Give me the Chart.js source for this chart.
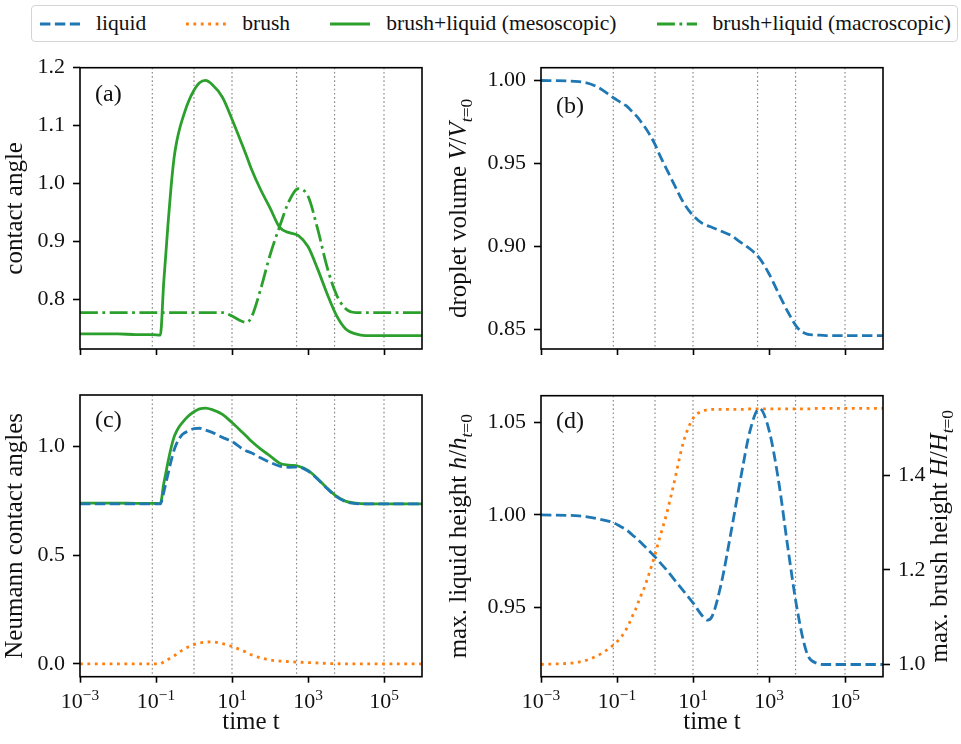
<!DOCTYPE html>
<html>
<head>
<meta charset="utf-8">
<title>Contact angles and heights over time</title>
<script src="https://cdn.jsdelivr.net/npm/chart.js@4.4.1/dist/chart.umd.min.js"></script>
<style>
  html, body { margin: 0; background: #fff; }
  #figure { position: relative; width: 961px; height: 744px; overflow: hidden; }
  #figure canvas { position: absolute; left: 0; top: 0; }
  #legend {
    position: absolute; left: 31px; top: 5px; width: 927px; height: 37px;
    box-sizing: border-box; border: 1.5px solid #d5d5d5; border-radius: 4px;
    padding: 0 6px 0 8px; display: flex; align-items: center; justify-content: space-between;
    font-family: "Liberation Serif", serif; font-size: 21.5px; color: #111; background: #fff;
  }
  .item { display: flex; align-items: center; }
  .item svg { margin-right: 16px; }
</style>
</head>
<body>
<div id="figure">
  <canvas id="panelA" width="961" height="744"></canvas>
  <canvas id="panelB" width="961" height="744"></canvas>
  <canvas id="panelC" width="961" height="744"></canvas>
  <canvas id="panelD" width="961" height="744"></canvas>
  <div id="legend"></div>
</div>
<script>
// ---- data ----
// sample times shared by every series
const times = [0.001, 0.01, 0.03, 0.08, 0.13, 0.16, 0.18, 0.21, 0.25, 0.3,
               0.35, 0.42, 0.5, 0.7, 1, 1.4, 2, 3, 5.6, 10,
               18, 24, 32, 56, 100, 180, 320, 560, 1000, 1800,
               3200, 5600, 1e4, 1.8e4, 3.2e4, 1e5, 1e6];

// (a) contact angle, brush+liquid
const angleMeso = [0.740, 0.740, 0.739, 0.739, 0.738, 0.830, 0.875, 0.935, 0.995, 1.045,
                   1.072, 1.095, 1.112, 1.140, 1.161, 1.174, 1.178, 1.171, 1.149, 1.111,
                   1.069, 1.048, 1.026, 0.990, 0.958, 0.924, 0.915, 0.910, 0.891, 0.852,
                   0.809, 0.772, 0.748, 0.740, 0.737, 0.737, 0.737];
const angleMacro = [0.777, 0.777, 0.777, 0.777, 0.777, 0.777, 0.777, 0.777, 0.777, 0.777,
                    0.777, 0.777, 0.777, 0.777, 0.777, 0.777, 0.777, 0.777, 0.777, 0.771,
                    0.762, 0.760, 0.768, 0.816, 0.876, 0.926, 0.970, 0.991, 0.978, 0.921,
                    0.855, 0.808, 0.783, 0.777, 0.777, 0.777, 0.777];

// (b) droplet volume V/V(t=0)
const dropletVolume = [1.000, 0.9993, 0.9962, 0.9896, 0.9866, 0.9853, 0.9846, 0.9831, 0.9813, 0.9795,
                       0.9778, 0.9754, 0.9731, 0.968, 0.9615, 0.954, 0.9468, 0.9387, 0.9265, 0.9187,
                       0.9138, 0.9126, 0.9115, 0.9092, 0.9067, 0.9025, 0.8985, 0.893, 0.8836, 0.8716,
                       0.8603, 0.8511, 0.8473, 0.8467, 0.8464, 0.8464, 0.8464];

// (c) Neumann contact angles
const neumannLiquid = [0.737, 0.737, 0.737, 0.737, 0.737, 0.790, 0.828, 0.878, 0.935, 0.985,
                       1.015, 1.040, 1.057, 1.072, 1.083, 1.085, 1.077, 1.066, 1.043, 1.024,
                       0.992, 0.980, 0.972, 0.949, 0.928, 0.911, 0.905, 0.906, 0.888, 0.850,
                       0.807, 0.770, 0.746, 0.738, 0.737, 0.737, 0.737];
const neumannBrush = [0, 0, 0, 0, 0, 0.009, 0.014, 0.021, 0.029, 0.037,
                      0.045, 0.055, 0.064, 0.078, 0.089, 0.096, 0.100, 0.101, 0.093, 0.080,
                      0.063, 0.053, 0.042, 0.028, 0.018, 0.013, 0.010, 0.008, 0.006, 0.004,
                      0.002, 0.001, 0, 0, 0, 0, 0];

// (d) max. liquid height h/h(t=0) and max. brush height H/H(t=0)
const liquidHeight = [1.000, 0.9995, 0.998, 0.9958, 0.9935, 0.9925, 0.9919, 0.9907, 0.9893, 0.9879,
                      0.9867, 0.9852, 0.9836, 0.9806, 0.9773, 0.9739, 0.9703, 0.9658, 0.9589, 0.9524,
                      0.9451, 0.9430, 0.9452, 0.9633, 0.9906, 1.020, 1.046, 1.0577, 1.046, 1.018,
                      0.981, 0.948, 0.925, 0.9197, 0.919, 0.919, 0.919];
const brushHeight = [1.000, 1.005, 1.018, 1.041, 1.058, 1.069, 1.076, 1.087, 1.101, 1.114,
                     1.128, 1.144, 1.158, 1.192, 1.232, 1.274, 1.317, 1.375, 1.470, 1.520,
                     1.536, 1.538, 1.539, 1.539, 1.539, 1.539, 1.540, 1.540, 1.540, 1.540,
                     1.540, 1.540, 1.540, 1.541, 1.541, 1.541, 1.541];

// vertical guide lines and x ticks
const markTimes = [0.08, 1, 10, 500, 5000, 1e5];
const timeTicks = [1e-3, 1e-1, 1e1, 1e3, 1e5];

// ---- styles ----
const FIG_W = 961, FIG_H = 744;
const FONT = '"Liberation Serif", serif';
const INK = '#111';
const LW = 2.8;
const Y_W = 70;   // fixed width of every y axis box
const X_H = 40;   // fixed height of every x axis box

Chart.defaults.font.family = FONT;
Chart.defaults.color = INK;

const styles = {
    liquid: { label: 'liquid', color: '#1f77b4', dash: [10.4, 4.5] },
    brush: { label: 'brush', color: '#ff7f0e', dash: [2.8, 4.6] },
    meso: { label: 'brush+liquid (mesoscopic)', color: '#2ca02c', dash: [] },
    macro: { label: 'brush+liquid (macroscopic)', color: '#2ca02c', dash: [17.9, 4.5, 2.8, 4.5] }
};

const panels = [
    {
        canvas: 'panelA', tag: '(a)', tagDrop: 33,
        area: { left: 80, top: 67.7, right: 422, bottom: 349 },
        y: { min: 0.714, max: 1.2, ticks: [0.8, 0.9, 1.0, 1.1, 1.2], digits: 1 },
        yTitle: [{ text: 'contact angle' }], yTitleX: 22,
        series: [{ data: angleMeso, style: 'meso' }, { data: angleMacro, style: 'macro' }]
    },
    {
        canvas: 'panelB', tag: '(b)', tagDrop: 45,
        area: { left: 541, top: 67.7, right: 883, bottom: 349 },
        y: { min: 0.8383, max: 1.0077, ticks: [0.85, 0.90, 0.95, 1.00], digits: 2 },
        yTitle: [{ text: 'droplet volume ' }, { text: 'V', it: true }, { text: '/' },
                 { text: 'V', it: true }, { text: 't', it: true, sub: true }, { text: '=0', sub: true }],
        yTitleX: 466,
        series: [{ data: dropletVolume, style: 'liquid' }]
    },
    {
        canvas: 'panelC', tag: '(c)', tagDrop: 32, timeLabels: true,
        area: { left: 80, top: 395, right: 422, bottom: 676.7 },
        y: { min: -0.059, max: 1.238, ticks: [0, 0.5, 1.0], digits: 1 },
        yTitle: [{ text: 'Neumann contact angles' }], yTitleX: 22,
        series: [{ data: neumannLiquid, style: 'liquid' }, { data: angleMeso, style: 'meso' },
                 { data: neumannBrush, style: 'brush' }]
    },
    {
        canvas: 'panelD', tag: '(d)', tagDrop: 32, timeLabels: true,
        area: { left: 541, top: 395.7, right: 883, bottom: 676.7 },
        y: { min: 0.9124, max: 1.0646, ticks: [0.95, 1.00, 1.05], digits: 2 },
        y1: { min: 0.974, max: 1.568, ticks: [1.0, 1.2, 1.4], digits: 1 },
        yTitle: [{ text: 'max. liquid height ' }, { text: 'h', it: true }, { text: '/' },
                 { text: 'h', it: true }, { text: 't', it: true, sub: true }, { text: '=0', sub: true }],
        yTitleX: 466,
        y1Title: [{ text: 'max. brush height ' }, { text: 'H', it: true }, { text: '/' },
                  { text: 'H', it: true }, { text: 't', it: true, sub: true }, { text: '=0', sub: true }],
        y1TitleX: 947,
        series: [{ data: liquidHeight, style: 'liquid' }, { data: brushHeight, style: 'brush', axis: 'y1' }]
    }
];

// text with italic / sub / superscript runs, centred on (x, y) baseline
function drawRich(ctx, parts, size, x, y, vertical) {
    ctx.save();
    ctx.translate(x, y);
    if (vertical) ctx.rotate(-Math.PI / 2);
    ctx.fillStyle = INK;
    ctx.textAlign = 'left';
    ctx.textBaseline = 'alphabetic';
    const fontOf = p => (p.it ? 'italic ' : '') + ((p.sub || p.sup) ? size * 0.7 : size) + 'px ' + FONT;
    const widths = parts.map(p => { ctx.font = fontOf(p); return ctx.measureText(p.text).width; });
    let cx = -widths.reduce((a, b) => a + b, 0) / 2;
    parts.forEach((p, i) => {
        ctx.font = fontOf(p);
        const dy = p.sub ? size * 0.22 : (p.sup ? -size * 0.36 : 0);
        ctx.fillText(p.text, cx, dy);
        cx += widths[i];
    });
    ctx.restore();
}

function makeDecor(panel) {
    return {
        id: 'panelDecor',
        beforeDatasetsDraw(chart) {
            const { ctx, chartArea: a } = chart;
            const x = chart.scales.x;
            ctx.save();
            ctx.strokeStyle = 'rgba(120,120,120,0.85)';
            ctx.lineWidth = 1.2;
            ctx.setLineDash([1.6, 2.6]);
            markTimes.forEach(t => {
                const px = x.getPixelForValue(t);
                ctx.beginPath();
                ctx.moveTo(px, a.top);
                ctx.lineTo(px, a.bottom);
                ctx.stroke();
            });
            ctx.restore();
        },
        afterDatasetsDraw(chart) {
            const { ctx, chartArea: a } = chart;
            ctx.save();
            ctx.strokeStyle = '#000';
            ctx.lineWidth = 1.6;
            ctx.strokeRect(a.left, a.top, a.right - a.left, a.bottom - a.top);
            ctx.restore();
        },
        afterDraw(chart) {
            const { ctx, chartArea: a } = chart;
            const midY = (a.top + a.bottom) / 2;
            ctx.save();
            ctx.fillStyle = INK;
            ctx.font = '24px ' + FONT;
            ctx.textBaseline = 'alphabetic';
            ctx.fillText(panel.tag, a.left + 15, a.top + panel.tagDrop);
            ctx.restore();

            drawRich(ctx, panel.yTitle, 25, panel.yTitleX, midY, true);
            if (panel.y1Title) drawRich(ctx, panel.y1Title, 25, panel.y1TitleX, midY, true);

            if (panel.timeLabels) {
                const x = chart.scales.x;
                timeTicks.forEach(t => {
                    const e = Math.round(Math.log10(t));
                    const exp = e < 0 ? '\u2212' + Math.abs(e) : String(e);
                    drawRich(ctx, [{ text: '10' }, { text: exp, sup: true }], 22,
                             x.getPixelForValue(t), a.bottom + 31, false);
                });
                drawRich(ctx, [{ text: 'time t' }], 25, (a.left + a.right) / 2, a.bottom + 52, false);
            }
        }
    };
}

function yScale(cfg, position) {
    return {
        type: 'linear',
        position: position,
        min: cfg.min,
        max: cfg.max,
        afterBuildTicks: s => { s.ticks = cfg.ticks.map(v => ({ value: v })); },
        afterFit: s => { s.width = Y_W; },
        border: { display: false },
        grid: { drawOnChartArea: false, tickLength: 7, tickWidth: 1.6, tickColor: '#000' },
        ticks: {
            padding: 8,
            color: INK,
            font: { family: FONT, size: 22 },
            callback: v => Number(v).toFixed(cfg.digits)
        }
    };
}

function buildPanel(panel) {
    const a = panel.area;
    const rightW = panel.y1 ? Y_W : 0;
    const scales = {
        x: {
            type: 'logarithmic',
            position: 'bottom',
            min: 1e-3,
            max: 1e6,
            afterBuildTicks: s => { s.ticks = timeTicks.map(v => ({ value: v })); },
            afterFit: s => { s.height = X_H; },
            border: { display: false },
            grid: { drawOnChartArea: false, tickLength: 6, tickWidth: 1.6, tickColor: '#000' },
            ticks: { display: false }
        },
        y: yScale(panel.y, 'left')
    };
    if (panel.y1) scales.y1 = yScale(panel.y1, 'right');

    const datasets = panel.series.map(s => {
        const st = styles[s.style];
        return {
            label: st.label,
            data: times.map((t, i) => ({ x: t, y: s.data[i] })),
            yAxisID: s.axis || 'y',
            borderColor: st.color,
            borderDash: st.dash,
            borderWidth: LW,
            pointRadius: 0,
            fill: false,
            cubicInterpolationMode: 'monotone'
        };
    });

    new Chart(document.getElementById(panel.canvas), {
        type: 'line',
        data: { datasets: datasets },
        options: {
            responsive: false,
            animation: false,
            events: [],
            layout: {
                padding: {
                    left: a.left - Y_W,
                    right: FIG_W - a.right - rightW,
                    top: a.top,
                    bottom: FIG_H - a.bottom - X_H
                }
            },
            plugins: { legend: { display: false }, tooltip: { enabled: false } },
            scales: scales
        },
        plugins: [makeDecor(panel)]
    });
}

panels.forEach(buildPanel);

// shared legend across the top
const legendOrder = ['liquid', 'brush', 'meso', 'macro'];
const legendEl = document.getElementById('legend');
legendOrder.forEach(key => {
    const st = styles[key];
    const item = document.createElement('div');
    item.className = 'item';
    item.innerHTML =
        '<svg width="40" height="12"><line x1="0" y1="6" x2="40" y2="6" stroke="' + st.color +
        '" stroke-width="' + LW + '" stroke-dasharray="' + (st.dash.length ? st.dash.join(' ') : 'none') +
        '"/></svg><span>' + st.label + '</span>';
    legendEl.appendChild(item);
});
</script>
</body>
</html>
